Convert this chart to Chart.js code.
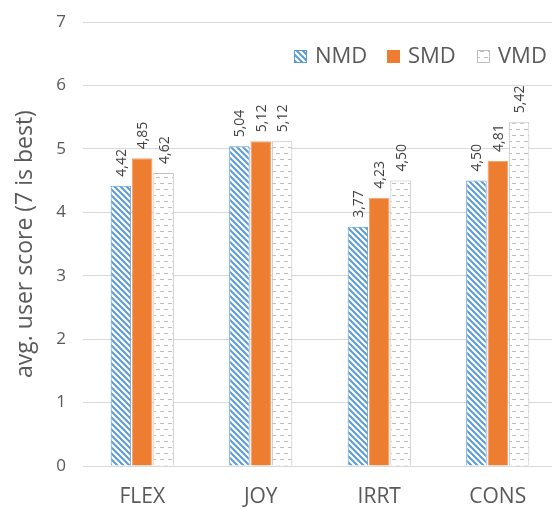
<!DOCTYPE html>
<html>
<head>
<meta charset="utf-8">
<script src="https://cdn.jsdelivr.net/npm/chart.js@4.4.1/dist/chart.umd.min.js"></script>
<style>
html,body{margin:0;padding:0;background:#fff;overflow:hidden;}
#wrap{width:560px;height:508px;position:relative;}
</style>
</head>
<body>
<div id="wrap"><canvas id="c" width="560" height="508"></canvas></div>
<script>
const categories = ['FLEX', 'JOY', 'IRRT', 'CONS'];
const seriesNames = ['NMD', 'SMD', 'VMD'];
const nmdValues = [4.42, 5.04, 3.77, 4.50];
const smdValues = [4.85, 5.12, 4.23, 4.81];
const vmdValues = [4.62, 5.12, 4.50, 5.42];
const yTicks = [0, 1, 2, 3, 4, 5, 6, 7];
const yTitle = 'avg. user score (7 is best)';

const FONT = "'Open Sans', sans-serif";
const TEXT = '#595959';

function stripePattern() {
  const s = 6;
  const c = document.createElement('canvas');
  c.width = s; c.height = s;
  const x = c.getContext('2d');
  x.fillStyle = '#fff'; x.fillRect(0, 0, s, s);
  x.strokeStyle = '#5B9BD5'; x.lineWidth = 2;
  x.beginPath();
  x.moveTo(-1, -1); x.lineTo(s + 1, s + 1);
  x.moveTo(-1, s - 1); x.lineTo(1, s + 1);
  x.moveTo(s - 1, -1); x.lineTo(s + 1, 1);
  x.stroke();
  return x.createPattern(c, 'repeat');
}
function dashPattern() {
  const c = document.createElement('canvas');
  c.width = 8; c.height = 12;
  const x = c.getContext('2d');
  x.fillStyle = '#fff'; x.fillRect(0, 0, 8, 12);
  x.fillStyle = '#BFBFBF';
  x.fillRect(0, 3, 4, 1);
  x.fillRect(4, 9, 4, 1);
  return x.createPattern(c, 'repeat');
}

const fills = [stripePattern(), '#ED7D31', dashPattern()];
const borders = ['#5B9BD5', '#F4A370', '#BFBFBF'];
const legendSwatch = fills;

const valueLabels = {
  id: 'valueLabels',
  afterDatasetsDraw(chart) {
    const ctx = chart.ctx;
    ctx.save();
    ctx.font = '14px ' + FONT;
    ctx.fillStyle = '#404040';
    ctx.textAlign = 'left';
    ctx.textBaseline = 'middle';
    chart.data.datasets.forEach((ds, di) => {
      const meta = chart.getDatasetMeta(di);
      meta.data.forEach((bar, i) => {
        const txt = ds.data[i].toFixed(2).replace('.', ',');
        ctx.save();
        ctx.translate(bar.x + 1, bar.y - 9);
        ctx.rotate(-Math.PI / 2);
        ctx.fillText(txt, 0, 0);
        ctx.restore();
      });
    });
    ctx.restore();
  }
};

const customLegend = {
  id: 'customLegend',
  afterDraw(chart) {
    const ctx = chart.ctx;
    ctx.save();
    ctx.font = '22px ' + FONT;
    ctx.textBaseline = 'middle';
    ctx.textAlign = 'left';
    const xs = [294, 387, 477];
    const y = 56;
    chart.data.datasets.forEach((ds, di) => {
      const bx = xs[di];
      ctx.fillStyle = legendSwatch[di];
      ctx.fillRect(bx, y - 6, 13, 13);
      ctx.strokeStyle = borders[di];
      ctx.lineWidth = 1;
      if (di !== 1) ctx.strokeRect(bx + 0.5, y - 5.5, 12, 12);
      ctx.fillStyle = TEXT;
      ctx.fillText(ds.label, bx + 21, y + 1);
    });
    ctx.restore();
  }
};

const datasets = [nmdValues, smdValues, vmdValues].map((vals, i) => ({
  label: seriesNames[i],
  data: vals,
  backgroundColor: fills[i],
  borderColor: borders[i],
  borderWidth: 1,
  categoryPercentage: 0.54,
  barPercentage: 0.96
}));

new Chart(document.getElementById('c'), {
  type: 'bar',
  data: { labels: categories, datasets },
  options: {
    responsive: false,
    animation: false,
    devicePixelRatio: 1,
    layout: { padding: { top: 22, right: 3, bottom: 0, left: 12 } },
    plugins: {
      legend: { display: false },
      tooltip: { enabled: false }
    },
    scales: {
      x: {
        afterFit(axis) { axis.height = 42; axis.paddingLeft = 0; axis.paddingRight = 0; },
        grid: { display: false, drawTicks: false },
        border: { display: false },
        ticks: { color: TEXT, font: { family: FONT, size: 21 }, padding: 18, maxRotation: 0 }
      },
      y: {
        min: 0, max: 7,
        afterFit(axis) { axis.width = 71; axis.paddingTop = 0; axis.paddingBottom = 0; },
        afterBuildTicks(axis) { axis.ticks = yTicks.map(v => ({ value: v })); },
        grid: { color: '#D9D9D9', lineWidth: 1, drawTicks: false },
        border: { display: false },
        ticks: { color: TEXT, font: { family: FONT, size: 17 }, padding: 17 },
        title: { display: true, text: yTitle, color: TEXT, font: { family: FONT, size: 23 }, padding: { top: 0, bottom: 14 } }
      }
    }
  },
  plugins: [valueLabels, customLegend]
});
</script>
</body>
</html>
